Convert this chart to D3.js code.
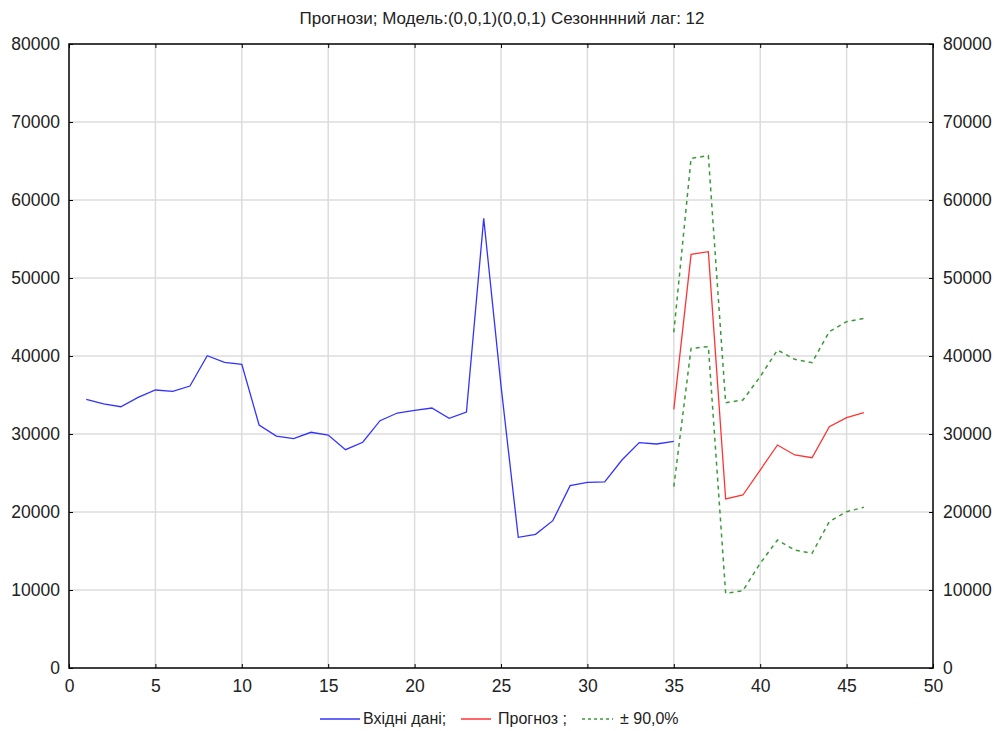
<!DOCTYPE html>
<html>
<head>
<meta charset="utf-8">
<script src="https://cdn.jsdelivr.net/npm/d3@7"></script>
<style>
  body { margin: 0; background: #fff; }
  svg text { font-family: "Liberation Sans", Arial, sans-serif; fill: #222; }
</style>
</head>
<body>
<svg id="chart" width="997" height="731"></svg>
<script>
const title = "Прогнози; Модель:(0,0,1)(0,0,1) Сезонннний лаг: 12";

// input data, t = 1..35
const inputX = d3.range(1, 36);
const inputY = [34450, 33850, 33500, 34700, 35640, 35470, 36150, 40040, 39190, 38930,
  31150, 29740, 29400, 30220, 29870, 27990, 28940, 31710, 32690, 33030,
  33330, 32010, 32820, 57650, 36200, 16750, 17140, 18890, 23380, 23810,
  23850, 26670, 28890, 28720, 29060];

// forecast, t = 35..46
const fcX = d3.range(35, 47);
const fcY = [33160, 53030, 53380, 21670, 22180, 25380, 28590, 27310, 26960, 30940, 32100, 32730];
const upperY = [43040, 65340, 65680, 34010, 34360, 37350, 40770, 39570, 39150, 43120, 44400, 44830];
const lowerY = [23250, 40980, 41200, 9570, 9910, 13420, 16410, 15130, 14700, 18760, 20040, 20600];

const xTicks = [0, 5, 10, 15, 20, 25, 30, 35, 40, 45, 50];
const yTicks = [0, 10000, 20000, 30000, 40000, 50000, 60000, 70000, 80000];

const legendLabels = ["Вхідні дані;", "Прогноз ;", "± 90,0%"];

const svg = d3.select("#chart");
const pLeft = 69, pRight = 933, pTop = 44, pBottom = 668;

const x = d3.scaleLinear().domain([0, 50]).range([pLeft, pRight]);
const y = d3.scaleLinear().domain([0, 80000]).range([pBottom, pTop]);

// grid
svg.append("g").selectAll("line").data(xTicks.slice(1, -1)).enter().append("line")
  .attr("x1", d => x(d)).attr("x2", d => x(d)).attr("y1", pTop).attr("y2", pBottom)
  .attr("stroke", "#dcdcdc").attr("stroke-width", 1.5);
svg.append("g").selectAll("line").data(yTicks.slice(1, -1)).enter().append("line")
  .attr("x1", pLeft).attr("x2", pRight).attr("y1", d => y(d)).attr("y2", d => y(d))
  .attr("stroke", "#dcdcdc").attr("stroke-width", 1.5);

// axes (ticks pointing inward)
function styleAxis(g) {
  g.select(".domain").remove();
  g.selectAll(".tick line").attr("stroke", "#000");
  g.selectAll(".tick text").style("font-size", "17.5px").attr("fill", "#222");
}
svg.append("g").attr("transform", `translate(0,${pBottom})`)
  .call(d3.axisBottom(x).tickValues(xTicks).tickSize(-4).tickPadding(12))
  .call(styleAxis);
svg.append("g").attr("transform", `translate(0,${pTop})`)
  .call(d3.axisTop(x).tickValues(xTicks).tickSize(-4).tickFormat(""))
  .call(styleAxis);
svg.append("g").attr("transform", `translate(${pLeft},0)`)
  .call(d3.axisLeft(y).tickValues(yTicks).tickSize(-4).tickPadding(9).tickFormat(d3.format("d")))
  .call(styleAxis);
svg.append("g").attr("transform", `translate(${pRight},0)`)
  .call(d3.axisRight(y).tickValues(yTicks).tickSize(-4).tickPadding(10).tickFormat(d3.format("d")))
  .call(styleAxis);

svg.append("rect").attr("x", pLeft).attr("y", pTop)
  .attr("width", pRight - pLeft).attr("height", pBottom - pTop)
  .attr("fill", "none").attr("stroke", "#000").attr("stroke-width", 1.5);

// series
const line = d3.line().x(d => x(d[0])).y(d => y(d[1]));
svg.append("path").datum(d3.zip(inputX, inputY)).attr("d", line)
  .attr("fill", "none").attr("stroke", "#3333ff").attr("stroke-width", 1.3);
svg.append("path").datum(d3.zip(fcX, upperY)).attr("d", line)
  .attr("fill", "none").attr("stroke", "#3a9a3a").attr("stroke-width", 1.5).attr("stroke-dasharray", "4,4");
svg.append("path").datum(d3.zip(fcX, lowerY)).attr("d", line)
  .attr("fill", "none").attr("stroke", "#3a9a3a").attr("stroke-width", 1.5).attr("stroke-dasharray", "4,4");
svg.append("path").datum(d3.zip(fcX, fcY)).attr("d", line)
  .attr("fill", "none").attr("stroke", "#ff3333").attr("stroke-width", 1.3);

// title
svg.append("text").attr("x", 502).attr("y", 24).attr("text-anchor", "middle")
  .style("font-size", "17px").text(title);

// legend
const legend = svg.append("g").style("font-size", "16px");
const items = [
  { x1: 320, x2: 360, tx: 363, color: "#3333ff", dash: null },
  { x1: 461, x2: 491, tx: 498, color: "#ff3333", dash: null },
  { x1: 582, x2: 613, tx: 620, color: "#3a9a3a", dash: "3,3" }
];
items.forEach((it, i) => {
  legend.append("line").attr("x1", it.x1).attr("x2", it.x2).attr("y1", 719).attr("y2", 719)
    .attr("stroke", it.color).attr("stroke-width", 1.5).attr("stroke-dasharray", it.dash);
  legend.append("text").attr("x", it.tx).attr("y", 724).text(legendLabels[i]);
});
</script>
</body>
</html>
